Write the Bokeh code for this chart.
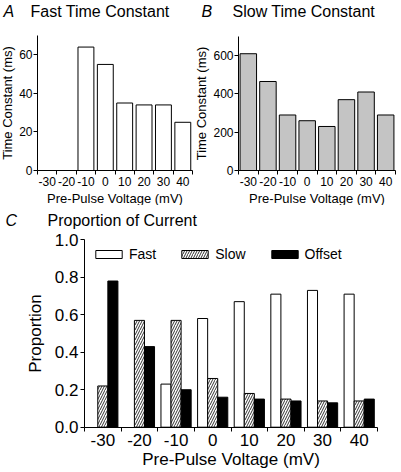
from bokeh.plotting import figure
from bokeh.layouts import column, row
from bokeh.models import (FixedTicker, Label, ColumnDataSource, Legend, LegendItem,
                          PrintfTickFormatter, Range1d)
from bokeh.transform import dodge
from bokeh.embed import file_html
from bokeh.resources import INLINE
import numpy as np

# ---------------- data ----------------
voltages = [-30, -20, -10, 0, 10, 20, 30, 40]
voltage_labels = ["-30", "-20", "-10", "0", "10", "20", "30", "40"]

fast_tau_voltages = [-10, 0, 10, 20, 30, 40]
fast_tau = [64, 55, 35, 34, 34, 25]

slow_tau = [610, 465, 290, 260, 230, 370, 410, 290]

prop_fast = [np.nan, np.nan, 0.23, 0.58, 0.67, 0.71, 0.73, 0.71]
prop_slow = [0.22, 0.57, 0.57, 0.26, 0.18, 0.15, 0.14, 0.14]
prop_offset = [0.78, 0.43, 0.20, 0.16, 0.15, 0.14, 0.13, 0.15]

tau_fast_ticks = [0, 20, 40, 60]
tau_slow_ticks = [0, 200, 400, 600]
prop_ticks = [0, 0.2, 0.4, 0.6, 0.8, 1.0]

FONT = "Liberation Sans"
XMIN, XMAX = voltages[0] - 5, voltages[-1] + 5
BOUNDS = [v - 5 for v in voltages] + [XMAX]


def lin(p1, v1, p2, v2, p):
    return v1 + (p - p1) * (v2 - v1) / (p2 - p1)


def make_fig(canvas, xpix, ypix, ymax):
    # canvas = (left, top, right, bottom) in page px; the frame fills the canvas,
    # axes are placed with fixed_location so that titles can sit in the frame.
    L, T, R, B = canvas
    xr = Range1d(lin(xpix[0], XMIN, xpix[1], XMAX, L), lin(xpix[0], XMIN, xpix[1], XMAX, R))
    yr = Range1d(lin(ypix[0], 0, ypix[1], ymax, B), lin(ypix[0], 0, ypix[1], ymax, T))
    p = figure(width=R - L, height=B - T, x_range=xr, y_range=yr,
               output_backend="svg", toolbar_location=None,
               min_border=0, min_border_left=0, min_border_right=0,
               min_border_top=0, min_border_bottom=0)
    p.outline_line_color = None
    p.xgrid.visible = False
    p.ygrid.visible = False
    p.background_fill_color = "white"
    p.border_fill_color = "white"
    p.xaxis.fixed_location = 0
    p.xaxis.bounds = (XMIN, XMAX)
    p.yaxis.fixed_location = XMIN
    p.yaxis.bounds = (0, ymax)
    return p


def style(p, tick_px, label_px, xlabel, ylabel, yticks):
    p.xaxis.ticker = FixedTicker(ticks=voltages, minor_ticks=BOUNDS)
    p.xaxis.major_label_overrides = {v: l for v, l in zip(voltages, voltage_labels)}
    p.xaxis.major_tick_out = 0
    p.xaxis.major_tick_in = 0
    p.xaxis.minor_tick_out = 4
    p.xaxis.minor_tick_in = 0
    p.yaxis.ticker = FixedTicker(ticks=yticks)
    p.yaxis.major_tick_out = 4
    p.yaxis.major_tick_in = 0
    p.yaxis.minor_tick_out = 0
    p.yaxis.minor_tick_in = 0
    p.xaxis.axis_label = xlabel
    p.yaxis.axis_label = ylabel
    for ax in p.axis:
        ax.axis_line_color = "black"
        ax.axis_line_width = 1
        ax.major_tick_line_color = "black"
        ax.minor_tick_line_color = "black"
        ax.major_label_text_font = FONT
        ax.major_label_text_font_size = f"{tick_px}px"
        ax.major_label_text_color = "black"
        ax.axis_label_text_font = FONT
        ax.axis_label_text_font_size = f"{label_px}px"
        ax.axis_label_text_font_style = "normal"
        ax.axis_label_text_color = "black"
        ax.major_label_standoff = 2
        ax.axis_label_standoff = 2


def titles(p, letter, text, x_letter, x_text, y):
    p.add_layout(Label(x=x_letter, y=y, x_units="screen", y_units="screen", text=letter,
                       text_font=FONT, text_font_size="16px", text_font_style="italic",
                       text_baseline="middle", text_color="black"))
    p.add_layout(Label(x=x_text, y=y, x_units="screen", y_units="screen", text=text,
                       text_font=FONT, text_font_size="16px",
                       text_baseline="middle", text_color="black"))


TOP_B = 205
BOTTOM = 471
RIGHT = 400
SPLIT = 195

# ---------------- panel A ----------------
canvasA = (0, 0, SPLIT, TOP_B)
pA = make_fig(canvasA, (37, 192), (170, 35), 70)
srcA = ColumnDataSource(dict(v=fast_tau_voltages, t=fast_tau))
pA.vbar(x="v", top="t", width=8.2, source=srcA, fill_color="white", line_color="black", line_width=1)
style(pA, 12, 13, "Pre-Pulse Voltage (mV)", "Time Constant (ms)", tau_fast_ticks)
pA.yaxis.major_label_standoff = 1
pA.yaxis.axis_label_standoff = 1
titles(pA, "A", "Fast Time Constant", 3, 30, TOP_B - 11)

# ---------------- panel B ----------------
canvasB = (SPLIT, 0, RIGHT, TOP_B)
pB = make_fig(canvasB, (238, 395), (170, 36), 700)
srcB = ColumnDataSource(dict(v=voltages, t=slow_tau))
pB.vbar(x="v", top="t", width=8.4, source=srcB, fill_color="#c4c4c4", line_color="black", line_width=1)
style(pB, 12, 13, "Pre-Pulse Voltage (mV)", "Time Constant (ms)", tau_slow_ticks)
pB.yaxis.major_label_standoff = 1
pB.yaxis.axis_label_standoff = 1
titles(pB, "B", "Slow Time Constant", 200 - SPLIT + 1, 232 - SPLIT, TOP_B - 11)

# ---------------- panel C ----------------
canvasC = (0, TOP_B, RIGHT, BOTTOM)
pC = make_fig(canvasC, (84, 377), (426.7, 239.3), 1.0)
srcC = ColumnDataSource(dict(v=voltages, f=np.array(prop_fast, dtype=float),
                             s=prop_slow, o=prop_offset))
bw = 2.75
rf = pC.vbar(x=dodge("v", -bw, range=pC.x_range), top="f", width=bw, source=srcC,
             fill_color="white", line_color="black", line_width=1)
rs = pC.vbar(x=dodge("v", 0, range=pC.x_range), top="s", width=bw, source=srcC,
             fill_color="white", line_color="black", line_width=1,
             hatch_pattern="/", hatch_color="black", hatch_scale=5, hatch_weight=0.8)
ro = pC.vbar(x=dodge("v", bw, range=pC.x_range), top="o", width=bw, source=srcC,
             fill_color="black", line_color="black", line_width=1)
style(pC, 17, 17, "Pre-Pulse Voltage (mV)", "Proportion", prop_ticks)
pC.yaxis.formatter = PrintfTickFormatter(format="%.1f")
pC.yaxis.axis_label_standoff = 7
pC.xaxis.major_label_standoff = 3
pC.xaxis.axis_label_standoff = 0
titles(pC, "C", "Proportion of Current", 5, 47, BOTTOM - 220)

legend = Legend(items=[LegendItem(label="Fast", renderers=[rf]),
                       LegendItem(label="Slow", renderers=[rs]),
                       LegendItem(label="Offset", renderers=[ro])],
                orientation="horizontal", location=(92, BOTTOM - 262),
                glyph_width=33, glyph_height=10, label_standoff=4, spacing=22,
                padding=0, margin=0, border_line_color=None, background_fill_alpha=0,
                label_text_font=FONT, label_text_font_size="14px", label_text_color="black")
pC.add_layout(legend)

layout = column(row(pA, pB, spacing=0), pC, spacing=0)

open("out.html", "w").write(file_html(layout, INLINE))
